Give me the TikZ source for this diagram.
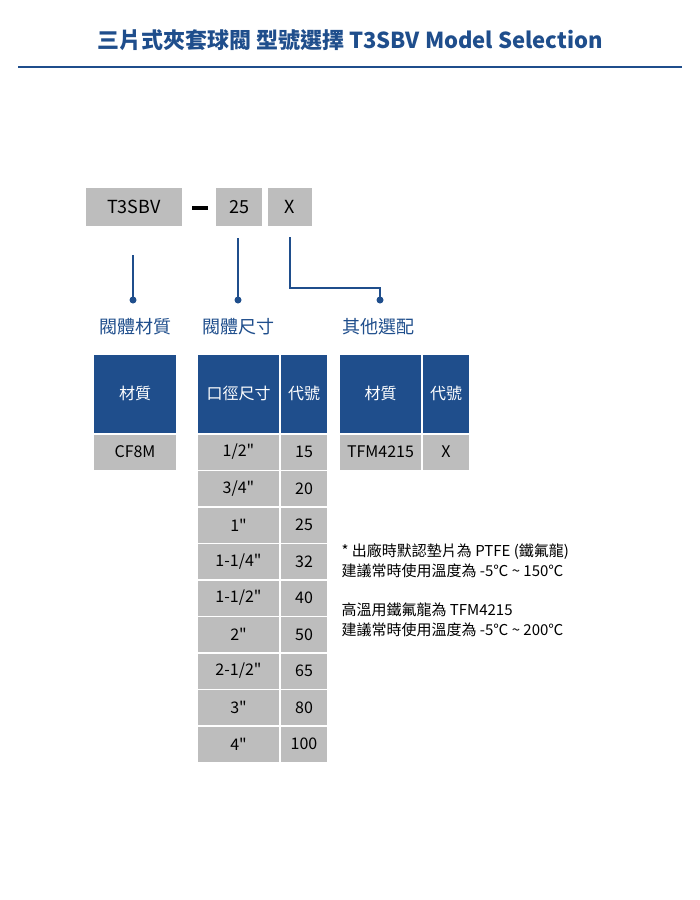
\documentclass[tikz,border=0pt]{standalone}
\usepackage{fontspec}
\setmainfont{Noto Sans CJK TC}
\usetikzlibrary{positioning}
\definecolor{valveblue}{HTML}{1F4E8C}
\definecolor{cellgray}{HTML}{BDBDBD}
\newcommand{\inch}{\textquotedbl}
\begin{document}
\begin{tikzpicture}[x=1pt,y=-1pt,
    codebox/.style={fill=cellgray, minimum height=38pt, font=\fontsize{18}{18}\selectfont, inner sep=0pt},
    head/.style={fill=valveblue, text=white, minimum height=78pt, font=\fontsize{16}{16}\selectfont, inner sep=0pt},
    cell/.style={fill=cellgray, minimum height=35pt, font=\fontsize{16}{16}\selectfont, inner sep=0pt},
    group/.style={text=valveblue, font=\fontsize{18}{18}\selectfont},
    link/.style={valveblue, line width=2pt}]
    \useasboundingbox (0,0) rectangle (700,900);
    \fill[white] (0,0) rectangle (700,900);

    \node[text=valveblue, font=\bfseries\fontsize{22}{22}\selectfont] (title) at (350,40)
        {三片式夾套球閥 型號選擇 T3SBV Model Selection};
    \draw[valveblue, line width=2.5pt] (18,67) -- (682,67);

    % model code
    \node[codebox, minimum width=96pt] (body) at (134,207) {T3SBV};
    \coordinate (dashl) at (192,208);
    \coordinate (dashr) at (208,208);
    \draw[line width=3.5pt] (dashl) -- (dashr);
    \node[codebox, minimum width=46pt] (size) at (239,207) {25};
    \node[codebox, minimum width=44pt] (opt) at (290,207) {X};

    \coordinate (d1) at (133,300);
    \coordinate (d2) at (238,300);
    \coordinate (d3) at (380,300);
    \draw[link] (133,255) -- (d1);
    \draw[link] (238,238) -- (d2);
    \draw[link] (290,237) |- (380,288) -- (d3);
    \foreach \d in {d1,d2,d3} \fill[valveblue] (\d) circle (3.5pt);

    \node[group] (g1) at (135,327) {閥體材質};
    \node[group] (g2) at (238,327) {閥體尺寸};
    \node[group] (g3) at (378,327) {其他選配};

    % tables
    \node[head, minimum width=82pt] (h1) at (135,393.5) {材質};
    \node[cell, minimum width=82pt] (m1) at (135,452) {CF8M};

    \node[head, minimum width=81pt] (h2a) at (238.5,393.5) {口徑尺寸};
    \node[head, minimum width=46pt] (h2b) at (304,393.5) {代號};
    \foreach \s/\c [count=\i from 0] in {{1/2\inch}/15, {3/4\inch}/20, {1\inch}/25, {1-1/4\inch}/32, {1-1/2\inch}/40, {2\inch}/50, {2-1/2\inch}/65, {3\inch}/80, {4\inch}/100}{
        \node[cell, minimum width=81pt] (s\i) at (238.5,452+36.5*\i) {\s};
        \node[cell, minimum width=46pt] (c\i) at (304,452+36.5*\i) {\c};
    }

    \node[head, minimum width=81pt] (h3a) at (380.5,393.5) {材質};
    \node[head, minimum width=46pt] (h3b) at (446,393.5) {代號};
    \node[cell, minimum width=81pt] (o1) at (380.5,452) {TFM4215};
    \node[cell, minimum width=46pt] (o2) at (446,452) {X};

    \node[anchor=north west, align=left, font=\fontsize{15}{20.5}\selectfont] (note) at (338,540)
        {* 出廠時默認墊片為 PTFE (鐵氟龍)\\建議常時使用溫度為 -5℃ \textasciitilde{} 150℃\\[18pt]
         高溫用鐵氟龍為 TFM4215\\建議常時使用溫度為 -5℃ \textasciitilde{} 200℃};
\end{tikzpicture}
\end{document}
